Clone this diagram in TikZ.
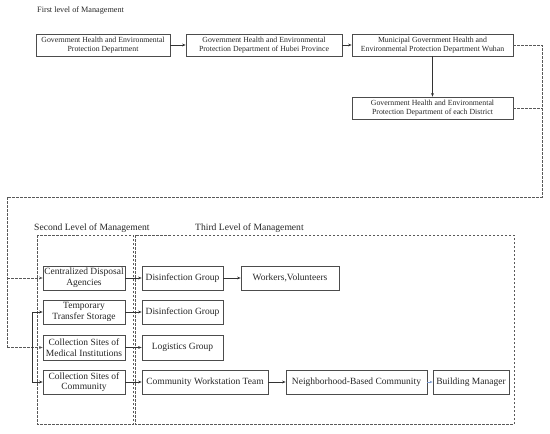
\documentclass[tikz,border=0pt]{standalone}
\usepackage{fontspec}
\setmainfont{Liberation Serif}
\usetikzlibrary{arrows.meta}
\definecolor{lblue}{HTML}{7B9BD0}
\begin{document}
\begin{tikzpicture}[x=1pt,y=-1pt,
  box/.style={draw=black!70, line width=0.7pt, inner sep=0pt, align=center, text=black!85},
  topbox/.style={box, font=\fontsize{7.8}{8.8}\selectfont, minimum height=22pt},
  lowbox/.style={box, font=\fontsize{9.5}{10.6}\selectfont, minimum height=24pt},
  title/.style={font=\fontsize{9.6}{11}\selectfont, anchor=west, inner sep=0pt, text=black!85},
  arr/.style={line width=0.7pt, draw=black!80, -{Stealth[length=3.5pt,width=2.8pt]}},
  dline/.style={line width=0.7pt, draw=black!65, dash pattern=on 2.5pt off 1.5pt},
  darr/.style={dline, -{Stealth[length=3.5pt,width=2.8pt]}, }
]
\useasboundingbox (0,0) rectangle (550,434);

% first level
\node[title, font=\fontsize{8.2}{9}\selectfont] (t1) at (37,10) {First level of Management};
\node[topbox, minimum width=134pt] (b1) at (103,45) {Government Health and Environmental\\Protection Department};
\node[topbox, minimum width=156pt] (b2) at (264,45) {Government Health and Environmental\\Protection Department of Hubei Province};
\node[topbox, minimum width=161pt] (b3) at (432.5,45) {Municipal Government Health and\\Environmental Protection Department Wuhan};
\node[topbox, minimum width=161pt] (b4) at (432.5,108) {Government Health and Environmental\\Protection Department of each District};

\draw[arr] (b1) -- (b2);
\draw[arr] (b2) -- (b3);
\draw[arr] (b3) -- (b4);

% level frames
\node[title] (t2) at (34,228) {Second Level of Management};
\node[title] (t3) at (195,228) {Third Level of Management};
\draw[dline] (37,235) rectangle (133,424);
\draw[dline] (135,235) rectangle (514,424);

% second level boxes
\node[lowbox, minimum width=82pt] (sa) at (84,278) {Centralized Disposal\\Agencies};
\node[lowbox, minimum width=82pt] (sb) at (84,312) {Temporary\\Transfer Storage};
\node[lowbox, minimum width=82pt, minimum height=25pt] (sc) at (84,347.5) {Collection Sites of\\Medical Institutions};
\node[lowbox, minimum width=82pt] (sd) at (84,382) {Collection Sites of\\Community};

% third level boxes
\node[lowbox, minimum width=81pt] (ta) at (182.5,278) {Disinfection Group};
\node[lowbox, minimum width=98pt] (wv) at (290,278) {Workers,Volunteers};
\node[lowbox, minimum width=81pt] (tb) at (182.5,312) {Disinfection Group};
\node[lowbox, minimum width=81pt, minimum height=25pt] (tc) at (182.5,347.5) {Logistics Group};
\node[lowbox, minimum width=126pt] (td) at (205,382) {Community Workstation Team};
\node[lowbox, minimum width=141pt] (nb) at (356.5,382) {Neighborhood-Based Community};
\node[lowbox, minimum width=76pt] (bm) at (471,382) {Building Manager};

\draw[arr] (sa) -- (ta);
\draw[arr] (sb) -- (tb);
\draw[arr] (sc) -- (tc);
\draw[arr] (sd) -- (td);
\draw[arr] (ta) -- (wv);
\draw[arr] (td) -- (nb);
\draw[line width=0.7pt, draw=lblue, -{Stealth[length=3pt,width=2.5pt]}] (nb) -- (bm);

% dashed feedback connectors
\coordinate (r1) at (542,45);
\coordinate (r2) at (542,197);
\coordinate (l1) at (7,197);
\coordinate (l2) at (7,278);
\coordinate (l3) at (7,347.5);
\draw[dline] (b3.east) -- (r1) -- (r2) -- (l1) -- (l3);
\draw[dline] (b4.east) -- (542,108);
\draw[darr] (l2) -- (sa.west);
\draw[darr] (l3) -- (sc.west);

% solid bracket
\coordinate (v1) at (32,312);
\coordinate (v2) at (32,382);
\draw[line width=0.7pt, draw=black!80] (v1) -- (v2);
\draw[arr] (v1) -- (sb.west);
\draw[arr] (v2) -- (sd.west);
\end{tikzpicture}
\end{document}
